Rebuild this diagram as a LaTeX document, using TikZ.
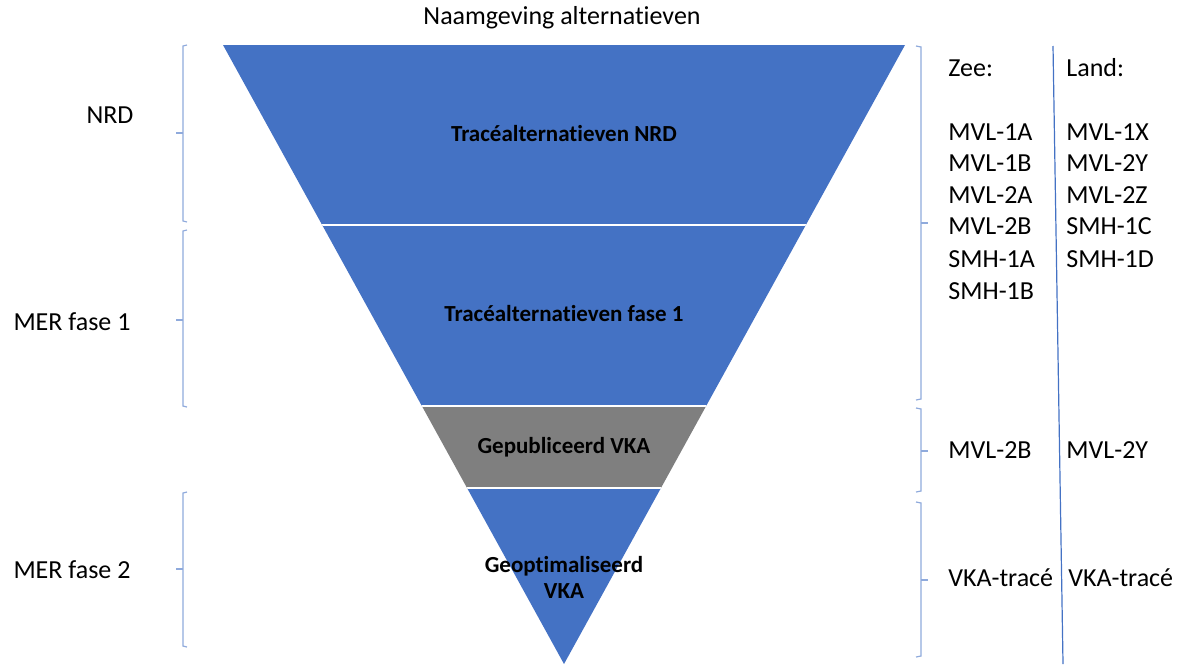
\documentclass[tikz,border=0pt]{standalone}
\usepackage{fontspec}
\setmainfont[Ligatures=NoCommon]{Carlito}
\definecolor{funnelblue}{HTML}{4472C4}
\definecolor{funnelgray}{HTML}{7F7F7F}
\definecolor{bracecol}{HTML}{8FAADC}

\begin{document}
\begin{tikzpicture}[
    x=0.5pt, y=-0.5pt,
    txt/.style={font=\fontsize{13}{15.75}\selectfont, inner sep=0pt},
    itemtxt/.style={txt, anchor=west},
    bandtxt/.style={font=\fontsize{11.5}{13}\selectfont\bfseries, inner sep=0pt, align=center},
    brk/.style={draw=bracecol, line width=0.6pt},
    divider/.style={draw=funnelblue, line width=0.6pt}
]
    \useasboundingbox (0,0) rectangle (1186,664);

    % Title
    \node[txt] (title) at (562,18) {Naamgeving alternatieven};

    % Funnel
    \begin{scope}
        \clip (223,45) -- (905,45) -- (564,664) -- cycle;
        \fill[funnelblue] (0,45) rectangle (1186,406);
        \fill[funnelgray] (0,406) rectangle (1186,488);
        \fill[funnelblue] (0,488) rectangle (1186,670);
        \draw[white, line width=1pt] (0,225) -- (1186,225);
        \draw[white, line width=1pt] (0,406) -- (1186,406);
        \draw[white, line width=1pt] (0,488) -- (1186,488);
    \end{scope}

    \node[bandtxt] (nrd_band) at (564,134) {Tracéalternatieven NRD};
    \node[bandtxt] (fase1_band) at (564,314) {Tracéalternatieven fase 1};
    \node[bandtxt] (vka_band) at (564,447) {Gepubliceerd VKA};
    \node[bandtxt] (opt_band) at (564,577) {Geoptimaliseerd\\VKA};

    % Left phases
    \node[txt] (nrd) at (110,115) {NRD};
    \node[txt] (mer1) at (72,322) {MER fase 1};
    \node[txt] (mer2) at (72,570) {MER fase 2};

    \draw[brk] (187,45) -- (183,46) -- (183,221) -- (187,222);
    \draw[brk] (183,133) -- (176,133);
    \draw[brk] (187,230) -- (183,231) -- (183,406) -- (187,407);
    \draw[brk] (183,320) -- (176,320);
    \draw[brk] (187,492) -- (183,493) -- (183,646) -- (187,647);
    \draw[brk] (183,569) -- (176,569);

    % Right brackets
    \draw[brk] (916,46) -- (921,47) -- (921,399) -- (916,400);
    \draw[brk] (921,223) -- (928,223);
    \draw[brk] (916,408) -- (921,409) -- (921,491) -- (916,492);
    \draw[brk] (921,451) -- (928,451);
    \draw[brk] (916,502) -- (921,503) -- (921,656) -- (916,657);
    \draw[brk] (921,580) -- (928,580);

    % Zee / Land divider
    \coordinate (div_top) at (1053,46);
    \coordinate (div_bot) at (1063,664);
    \draw[divider] (div_top) -- (div_bot);

    % Zee column
    \node[itemtxt] (zee) at (948,68) {Zee:};
    \node[itemtxt] (z1) at (948,132) {MVL-1A};
    \node[itemtxt] (z2) at (948,163) {MVL-1B};
    \node[itemtxt] (z3) at (948,195) {MVL-2A};
    \node[itemtxt] (z4) at (948,226) {MVL-2B};
    \node[itemtxt] (z5) at (948,259) {SMH-1A};
    \node[itemtxt] (z6) at (948,291) {SMH-1B};
    \node[itemtxt] (z_vka) at (948,450) {MVL-2B};
    \node[itemtxt] (z_opt) at (948,578) {VKA-tracé};

    % Land column
    \node[itemtxt] (land) at (1066,68) {Land:};
    \node[itemtxt] (l1) at (1066,132) {MVL-1X};
    \node[itemtxt] (l2) at (1066,163) {MVL-2Y};
    \node[itemtxt] (l3) at (1066,195) {MVL-2Z};
    \node[itemtxt] (l4) at (1066,226) {SMH-1C};
    \node[itemtxt] (l5) at (1066,259) {SMH-1D};
    \node[itemtxt] (l_vka) at (1066,450) {MVL-2Y};
    \node[itemtxt] (l_opt) at (1068,578) {VKA-tracé};

\end{tikzpicture}
\end{document}
